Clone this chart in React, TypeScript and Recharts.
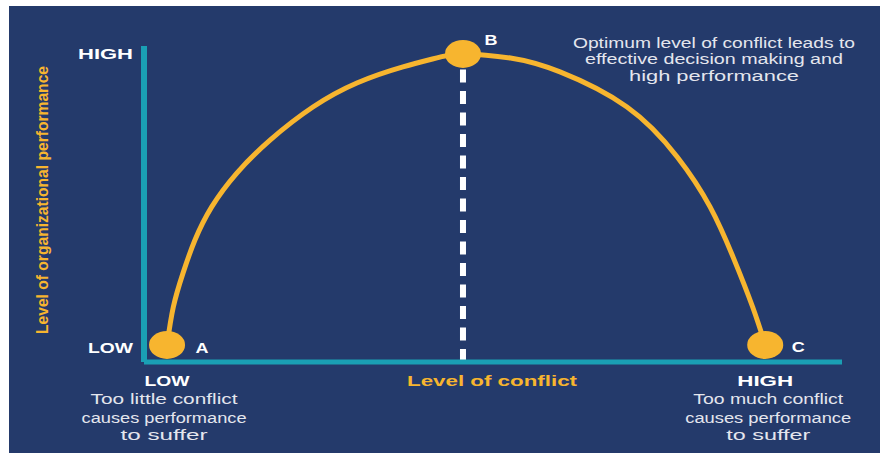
import React from 'react';
import { ComposedChart, Line, Scatter, XAxis, YAxis, ReferenceLine } from 'recharts';

// ---- data ----
const conflictLevel = [3.3, 4.2, 5.6, 7.3, 9.7, 13.3, 18.1, 24.2, 30.5, 37.1, 42.4, 45.7, 52.5, 59.6, 69.2, 76.4, 81.1, 84.4, 87.2, 89.0];
const performanceLevel = [5.4, 17.4, 28.2, 38.6, 49.1, 59.8, 70.3, 80.7, 88.3, 93.4, 96.5, 97.5, 96.2, 91.8, 80.7, 64.9, 49.1, 33.2, 17.4, 5.4];
const pointNames = ['A', 'B', 'C'];
const pointConflict = [3.3, 45.7, 89.0];
const pointPerformance = [5.4, 97.5, 5.4];
const levelLabels = ['LOW', 'HIGH'];
const lowNote = ['Too little conflict', 'causes performance', 'to suffer'];
const highNote = ['Too much conflict', 'causes performance', 'to suffer'];
const optimumNote = ['Optimum level of conflict leads to', 'effective decision making and', 'high performance'];
const xTitle = 'Level of conflict';
const yTitle = 'Level of organizational performance';

const curve = conflictLevel.map((x, i) => ({ x, y: performanceLevel[i] }));
const points = pointNames.map((name, i) => ({ name, x: pointConflict[i], y: pointPerformance[i] }));

// ---- style ----
const W = 871;
const H = 447;
const PLOT_LEFT = 135;
const PLOT_BOTTOM = 356;
const NAVY = '#243a6b';
const TEAL = '#1a9fb4';
const YELLOW = '#f7b52f';
const WHITE = '#ffffff';
const SOFT = '#e4e6ee';
const FONT = '"Liberation Sans", Arial, sans-serif';

const boldWidths: Record<string, number> = { LOW: 45, HIGH: 56 };
const lowNoteWidths = [147, 165, 87];
const highNoteWidths = [150, 166, 84];
const optimumWidths = [282, 258, 170];
const letterOffsets: Record<string, [number, number]> = { A: [35, 3], B: [28, -14], C: [33, 2] };

const YTick = (props: any) => {
  const v = props.payload.value;
  const label = v === pointPerformance[1] ? 'HIGH' : 'LOW';
  const w = label === 'HIGH' ? 55 : 45;
  return (
    <text x={PLOT_LEFT - 11} y={props.y + (label === 'LOW' ? 3 : 0)} textAnchor="end" dominantBaseline="central"
      fill={WHITE} fontFamily={FONT} fontWeight="bold" fontSize={15.5} textLength={w} lengthAdjust="spacingAndGlyphs">
      {label}
    </text>
  );
};

const XTick = (props: any) => {
  const idx = props.index;
  const label = levelLabels[idx];
  const note = idx === 0 ? lowNote : highNote;
  const widths = idx === 0 ? lowNoteWidths : highNoteWidths;
  const shift = idx === 0 ? -3 : 3;
  const offs = [36.5, 55, 72];
  return (
    <g>
      <text x={props.x} y={PLOT_BOTTOM + 18} textAnchor="middle" dominantBaseline="central" fill={WHITE}
        fontFamily={FONT} fontWeight="bold" fontSize={15} textLength={boldWidths[label]} lengthAdjust="spacingAndGlyphs">
        {label}
      </text>
      {note.map((line, i) => (
        <text key={i} x={props.x + shift} y={PLOT_BOTTOM + offs[i]} textAnchor="middle" dominantBaseline="central"
          fill={SOFT} fontFamily={FONT} fontSize={15.5} textLength={widths[i]} lengthAdjust="spacingAndGlyphs">
          {line}
        </text>
      ))}
    </g>
  );
};

const PointShape = (props: any) => {
  const { cx, cy, payload } = props;
  const [dx, dy] = letterOffsets[payload.name];
  return (
    <g>
      <ellipse cx={cx} cy={cy} rx={18} ry={14} fill={YELLOW} />
      <text x={cx + dx} y={cy + dy} textAnchor="middle" dominantBaseline="central" fill={WHITE}
        fontFamily={FONT} fontWeight="bold" fontSize={15} textLength={13} lengthAdjust="spacingAndGlyphs">
        {payload.name}
      </text>
    </g>
  );
};

const OptimumLabel = (props: any) => {
  const vb = props.viewBox;
  const offs = [-4, 12, 29];
  return (
    <g>
      {optimumNote.map((line, i) => (
        <text key={i} x={vb.x + 251} y={vb.y + offs[i]} textAnchor="middle" dominantBaseline="central"
          fill={SOFT} fontFamily={FONT} fontSize={15.5} textLength={optimumWidths[i]} lengthAdjust="spacingAndGlyphs">
          {line}
        </text>
      ))}
    </g>
  );
};

const XTitle = (props: any) => {
  const vb = props.viewBox;
  return (
    <text x={vb.x + vb.width / 2 - 1} y={PLOT_BOTTOM + 18} textAnchor="middle" dominantBaseline="central"
      fill={YELLOW} fontFamily={FONT} fontWeight="bold" fontSize={15} textLength={170} lengthAdjust="spacingAndGlyphs">
      {xTitle}
    </text>
  );
};

const YTitle = (props: any) => {
  const vb = props.viewBox;
  const cx = vb.x - 42;
  const cy = vb.y + vb.height / 2 - 4;
  return (
    <text x={cx} y={cy} transform={`rotate(-90 ${cx} ${cy})`} textAnchor="middle" dominantBaseline="central"
      fill={YELLOW} fontFamily={FONT} fontWeight="bold" fontSize={17} textLength={268} lengthAdjust="spacingAndGlyphs">
      {yTitle}
    </text>
  );
};

export default function App() {
  return (
    <div style={{ position: 'absolute', left: 9, top: 6, width: W, height: H, background: NAVY }}>
      <ComposedChart width={W} height={H} margin={{ top: 40, right: 38, left: 75, bottom: 31 }}>
        <XAxis dataKey="x" type="number" domain={[0, 100]} ticks={[pointConflict[0], pointConflict[2]]}
          tick={<XTick />} tickLine={false} height={60} interval={0}
          axisLine={{ stroke: TEAL, strokeWidth: 5 }} label={<XTitle />} />
        <YAxis dataKey="y" type="number" domain={[0, 100]} ticks={[pointPerformance[0], pointPerformance[1]]}
          tick={<YTick />} tickLine={false} width={60} interval={0}
          axisLine={{ stroke: TEAL, strokeWidth: 6 }} label={<YTitle />} />
        <ReferenceLine x={pointConflict[1]} stroke={WHITE} strokeWidth={6} strokeDasharray="13 8.5"
          label={<OptimumLabel />} />
        <Line data={curve} dataKey="y" type="natural" stroke={YELLOW} strokeWidth={5} dot={false}
          activeDot={false} isAnimationActive={false} />
        <Scatter data={points} dataKey="y" shape={<PointShape />} isAnimationActive={false} />
      </ComposedChart>
    </div>
  );
}
